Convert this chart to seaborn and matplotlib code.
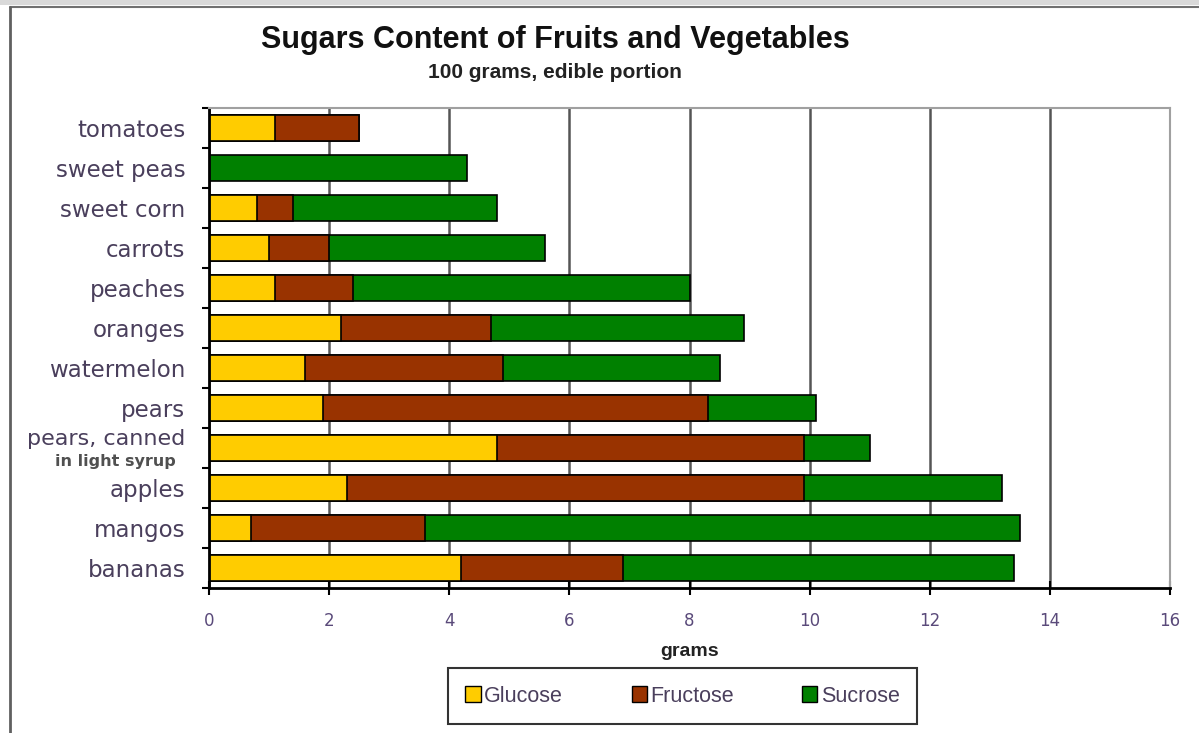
import numpy as np
import pandas as pd
import matplotlib
matplotlib.use('Agg')
import matplotlib.pyplot as plt
from matplotlib.patches import Patch, Rectangle
from matplotlib.lines import Line2D
import matplotlib.transforms as mtransforms
import seaborn as sns

# values (grams per 100 g edible portion)
foods = ['tomatoes', 'sweet peas', 'sweet corn', 'carrots', 'peaches', 'oranges',
         'watermelon', 'pears', 'pears, canned', 'apples', 'mangos', 'bananas']
glucose = [1.1, 0.0, 0.8, 1.0, 1.1, 2.2, 1.6, 1.9, 4.8, 2.3, 0.7, 4.2]
fructose = [1.4, 0.0, 0.6, 1.0, 1.3, 2.5, 3.3, 6.4, 5.1, 7.6, 2.9, 2.7]
sucrose = [0.0, 4.3, 3.4, 3.6, 5.6, 4.2, 3.6, 1.8, 1.1, 3.3, 9.9, 6.5]
sugars = ['Glucose', 'Fructose', 'Sucrose']
colors = ['#FFCC00', '#993300', '#008000']

df = pd.DataFrame({'food': foods, 'Glucose': glucose,
                   'Fructose': fructose, 'Sucrose': sucrose})
df['gf'] = df['Glucose'] + df['Fructose']
df['total'] = df['gf'] + df['Sucrose']

sns.set_style('white')
plt.rcParams['font.family'] = ['DejaVu Sans']

fig = plt.figure(figsize=(11.99, 7.33), dpi=100)
ax = fig.add_axes([209 / 1199, 1 - 588 / 733, 961 / 1199, 480 / 733])

# stacked bars: draw cumulative totals back to front
for col, c in zip(['total', 'gf', 'Glucose'], colors[::-1]):
    sns.barplot(data=df, x=col, y='food', order=foods, orient='h', color=c,
                saturation=1, width=0.66, edgecolor='black', linewidth=1.2, ax=ax)

ax.set_xlim(0, 16)
ax.set_ylim(11.5, -0.5)
ax.set_xticks(range(0, 17, 2))
ax.set_axisbelow(True)
ax.xaxis.grid(True, color='#555555', linewidth=1.8)
ax.yaxis.grid(False)

label_col = '#4a3f5c'
ax.set_yticks(range(len(foods)))
ax.set_yticklabels([f if f != 'pears, canned' else '' for f in foods])
ax.set_yticks(np.arange(-0.5, len(foods), 1), minor=True)
ax.tick_params(axis='y', which='major', length=0, pad=17, labelsize=16.5,
               labelcolor=label_col)
ax.tick_params(axis='y', which='minor', left=True, length=5, width=1.5,
               direction='out', color='black')
ax.tick_params(axis='x', bottom=True, direction='inout', length=10, width=1.5,
               color='black', pad=12, labelsize=12, labelcolor='#5a4a7a')

trans = mtransforms.blended_transform_factory(ax.transAxes, ax.transData)
idx = foods.index('pears, canned')
ax.text(-0.025, idx - 0.22, 'pears, canned', transform=trans, ha='right',
        va='center', fontsize=16, color=label_col)
ax.text(-0.035, idx + 0.33, 'in light syrup', transform=trans, ha='right',
        va='center', fontsize=11.5, color='#505050', fontweight='bold')

for s in ['left', 'bottom']:
    ax.spines[s].set_color('black')
    ax.spines[s].set_linewidth(2)
for s in ['top', 'right']:
    ax.spines[s].set_color('#a0a0a0')
    ax.spines[s].set_linewidth(1.5)

ax.set_ylabel('')
ax.set_xlabel('grams', fontsize=14, fontweight='bold', color='#222222',
              family=['Liberation Sans'], labelpad=10)

fig.text(555 / 1199, 1 - 40 / 733, 'Sugars Content of Fruits and Vegetables',
         ha='center', va='center', fontsize=22, fontweight='bold',
         family=['Liberation Sans'], color='#111111')
fig.text(555 / 1199, 1 - 73 / 733, '100 grams, edible portion',
         ha='center', va='center', fontsize=15, fontweight='bold',
         family=['Liberation Sans'], color='#222222')

handles = [Patch(facecolor=c, edgecolor='black', linewidth=1) for c in colors]
leg = ax.legend(handles, sugars, loc='center', bbox_to_anchor=(682.5 / 1199, 1 - 696 / 733),
                bbox_transform=fig.transFigure, ncol=3, frameon=True, fancybox=False,
                edgecolor='black', handlelength=0.7, handleheight=0.7,
                handletextpad=0.15, columnspacing=3.2, borderpad=0.8, borderaxespad=0,
                prop={'family': ['Liberation Sans'], 'size': 15.5})
leg.get_frame().set_linewidth(1.5)
for t in leg.get_texts():
    t.set_color('#4a3f5c')

# outer frame of the screenshot
fig.patches.append(Rectangle((0, 1 - 5 / 733), 1, 5 / 733, transform=fig.transFigure,
                             facecolor='#d9d9d9', edgecolor='none'))
fig.lines.append(Line2D([10 / 1199, 1], [1 - 7 / 733, 1 - 7 / 733], transform=fig.transFigure,
                        color='#707070', linewidth=1.5))
fig.lines.append(Line2D([10 / 1199, 10 / 1199], [0, 1 - 7 / 733], transform=fig.transFigure,
                        color='#606060', linewidth=2))

fig.savefig('out.png', dpi=100)
